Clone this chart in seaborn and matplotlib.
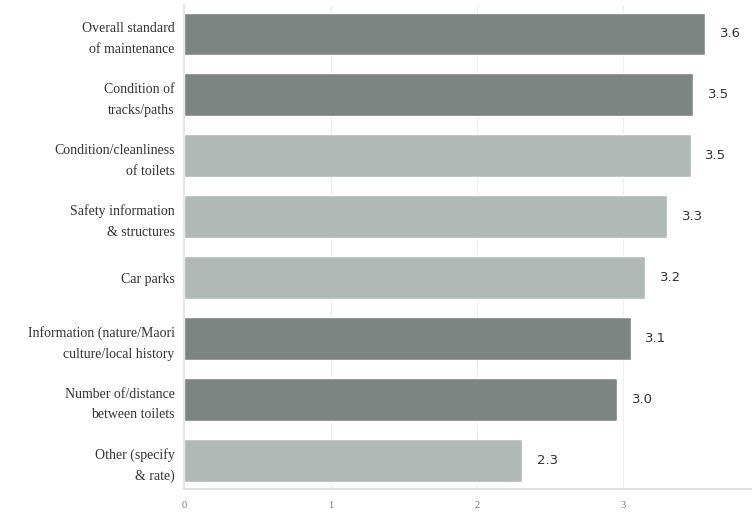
import matplotlib
matplotlib.use("Agg")
import matplotlib.pyplot as plt
import seaborn as sns
import pandas as pd

categories = [
    "Overall standard\nof maintenance",
    "Condition of\ntracks/paths",
    "Condition/cleanliness\nof toilets",
    "Safety information\n& structures",
    "Car parks",
    "Information (nature/Maori\nculture/local history",
    "Number of/distance\nbetween toilets",
    "Other (specify\n& rate)",
]
scores = [3.56, 3.48, 3.46, 3.30, 3.15, 3.05, 2.96, 2.31]
score_labels = ["3.6", "3.5", "3.5", "3.3", "3.2", "3.1", "3.0", "2.3"]
shade = ["dark", "dark", "light", "light", "light", "dark", "dark", "light"]

colors = {"dark": "#7c8581", "light": "#b1b9b6"}

df = pd.DataFrame({"category": categories, "score": scores})

sns.set_theme(style="white")
fig = plt.figure(figsize=(7.52, 5.19), dpi=100)
ax = fig.add_axes([0.245, 0.058, 0.755, 0.932])

sns.barplot(data=df, x="score", y="category", hue="category",
            palette=[colors[s] for s in shade], width=0.7,
            legend=False, ax=ax, saturation=1)

for i, (v, lab) in enumerate(zip(scores, score_labels)):
    ax.text(v + 0.1, i, lab, va="center", ha="left", fontsize=9.5,
            color="#333333", family="DejaVu Sans")

ax.set_xlim(0, 3.88)
ax.set_ylim(7.47, -0.47)
ax.set_xticks([0, 1, 2, 3])
ax.set_xticklabels(["0", "1", "2", "3"], family="Liberation Serif",
                   fontsize=7.5, color="#777777")
ax.set_yticks(range(len(categories)))
ax.set_yticklabels(categories, family="Liberation Serif", fontsize=10,
                   color="#333333", linespacing=1.75)
ax.tick_params(axis="y", length=0, pad=7)
ax.tick_params(axis="x", length=0, pad=9)
ax.set_xlabel("")
ax.set_ylabel("")
ax.xaxis.grid(True, color="#eeeeee", linewidth=0.8)
ax.set_axisbelow(True)
for s in ["top", "right"]:
    ax.spines[s].set_visible(False)
ax.spines["left"].set_color("#e4e4e4")
ax.spines["bottom"].set_color("#dddddd")

fig.savefig("out.png", dpi=100)
